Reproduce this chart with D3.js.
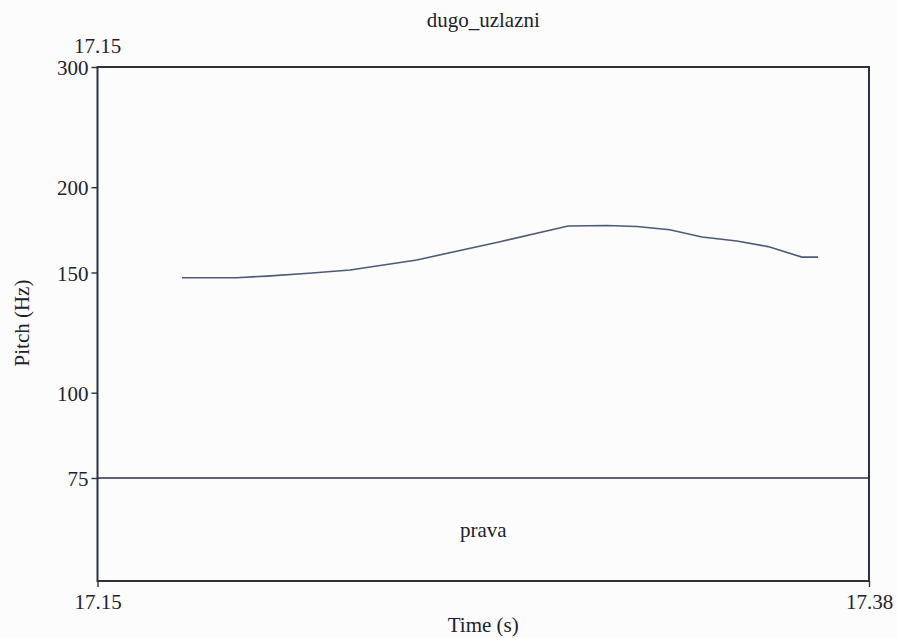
<!DOCTYPE html>
<html>
<head>
<meta charset="utf-8">
<script src="https://cdn.jsdelivr.net/npm/d3@7"></script>
<style>
  html, body { margin: 0; padding: 0; background: #fcfcfd; }
  svg { display: block; }
  text { font-family: "Liberation Serif", "Times New Roman", serif; fill: #1e222c; }
</style>
</head>
<body>
<svg id="chart" width="897" height="638"></svg>
<script>
const title = "dugo_uzlazni";
const xLabel = "Time (s)";
const yLabel = "Pitch (Hz)";
const timeRange = [17.15, 17.38];
const pitchRange = [75, 300];
const yTickValues = [75, 100, 150, 200, 300];
const xTickLabels = ["17.15", "17.38"];
const tierLabel = "prava";

const times = [17.1752, 17.1916, 17.2005, 17.2130, 17.2253, 17.2452, 17.2700, 17.2903, 17.3019, 17.3108, 17.3206, 17.3302, 17.3406, 17.3499, 17.3600, 17.3648];
const pitch = [147.4, 147.4, 148.2, 149.6, 151.3, 156.5, 166.4, 175.5, 175.8, 175.2, 173.3, 169.1, 166.8, 163.7, 158.0, 158.0];

const svg = d3.select("#chart");
const mLeft = 97.5, mRight = 869, mTop = 67, pitchBottom = 478, mBottom = 581;
const ink = "#2c3140";

const x = d3.scaleLinear().domain(timeRange).range([mLeft, mRight]);
const y = d3.scaleLog().domain(pitchRange).range([pitchBottom, mTop]);

// Frame
svg.append("rect")
  .attr("x", mLeft).attr("y", mTop)
  .attr("width", mRight - mLeft).attr("height", mBottom - mTop)
  .attr("fill", "none").attr("stroke", ink).attr("stroke-width", 2);

// Tier boundary at 75 Hz
svg.append("line")
  .attr("x1", mLeft).attr("x2", mRight)
  .attr("y1", y(75)).attr("y2", y(75))
  .attr("stroke", ink).attr("stroke-width", 1.4);

// Y axis
const yAxis = d3.axisLeft(y).tickValues(yTickValues).tickSize(6).tickPadding(3).tickFormat(d3.format("d"));
const gy = svg.append("g").attr("transform", `translate(${mLeft},0)`).call(yAxis);
gy.select(".domain").remove();
gy.selectAll(".tick line").attr("stroke", ink).attr("stroke-width", 1.4);
gy.selectAll(".tick text").attr("font-size", 21).attr("font-family", "Liberation Serif").attr("fill", "#1e222c").attr("dy", "0.36em");

// Bottom axis
const xAxis = d3.axisBottom(x).tickValues(timeRange).tickSize(6).tickPadding(7).tickFormat((d, i) => xTickLabels[i]);
const gx = svg.append("g").attr("transform", `translate(0,${mBottom})`).call(xAxis);
gx.select(".domain").remove();
gx.selectAll(".tick line").attr("stroke", ink).attr("stroke-width", 1.4);
gx.selectAll(".tick text").attr("font-size", 21).attr("font-family", "Liberation Serif").attr("fill", "#1e222c");

// Top start-time label
svg.append("text")
  .attr("x", x(timeRange[0])).attr("y", 53)
  .attr("text-anchor", "middle").attr("font-size", 21)
  .text(xTickLabels[0]);

// Pitch contour
const line = d3.line().x((d, i) => x(times[i])).y(d => y(d));
svg.append("path")
  .datum(pitch)
  .attr("d", line)
  .attr("fill", "none")
  .attr("stroke", "#4f5a78")
  .attr("stroke-width", 1.6);

// Tier label
svg.append("text")
  .attr("x", (mLeft + mRight) / 2).attr("y", 537)
  .attr("text-anchor", "middle").attr("font-size", 21)
  .text(tierLabel);

// Title
svg.append("text")
  .attr("x", (mLeft + mRight) / 2).attr("y", 27)
  .attr("text-anchor", "middle").attr("font-size", 21)
  .text(title);

// Axis labels
svg.append("text")
  .attr("x", (mLeft + mRight) / 2).attr("y", 632)
  .attr("text-anchor", "middle").attr("font-size", 21)
  .text(xLabel);

svg.append("text")
  .attr("transform", `translate(29,323) rotate(-90)`)
  .attr("text-anchor", "middle").attr("font-size", 21)
  .text(yLabel);
</script>
</body>
</html>
